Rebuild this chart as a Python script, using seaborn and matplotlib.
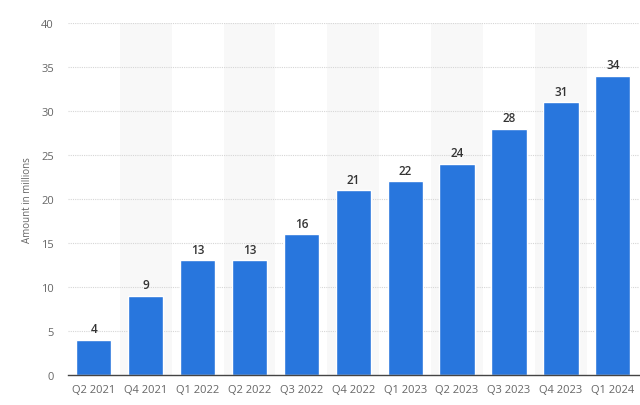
import matplotlib
matplotlib.use("Agg")
import matplotlib.pyplot as plt
import seaborn as sns
import pandas as pd

categories = ["Q2 2021", "Q4 2021", "Q1 2022", "Q2 2022", "Q3 2022", "Q4 2022",
              "Q1 2023", "Q2 2023", "Q3 2023", "Q4 2023", "Q1 2024"]
values = [4, 9, 13, 13, 16, 21, 22, 24, 28, 31, 34]
y_ticks = [0, 5, 10, 15, 20, 25, 30, 35, 40]

sns.set_theme(style="white")
plt.rcParams['font.family'] = ['Open Sans', 'DejaVu Sans']

df = pd.DataFrame({"quarter": categories, "amount": values})

fig = plt.figure(figsize=(6.4, 4.06), dpi=100)
ax = fig.add_axes([0.106, 0.0746, 0.892, 0.866])

for i in range(len(categories)):
    if i % 2 == 1:
        ax.axvspan(i - 0.5, i + 0.5, color="#f8f8f8", zorder=0, lw=0)

for t in y_ticks[1:]:
    ax.axhline(t, color="#d6d6d6", lw=0.8, ls=(0, (1, 1)), zorder=1)

sns.barplot(data=df, x="quarter", y="amount", color="#2876dd", width=0.68,
            saturation=1, ax=ax, zorder=2)

for i, v in enumerate(values):
    ax.text(i, v + 0.5, str(v), ha="center", va="bottom", fontsize=8.5,
            color="#333333", fontweight="semibold")

ax.set_xlim(-0.5, len(categories) - 0.5)
ax.set_ylim(0, 40)
ax.set_yticks(y_ticks)
ax.set_yticklabels([str(t) for t in y_ticks])
ax.set_xlabel("")
ax.set_ylabel("Amount in millions", fontsize=7, color="#666666", labelpad=6)
ax.tick_params(axis="both", labelsize=8, colors="#666666", length=0)
ax.tick_params(axis="x", pad=7)
ax.tick_params(axis="y", pad=10)
for s in ["top", "right", "left"]:
    ax.spines[s].set_visible(False)
ax.spines["bottom"].set_color("#444444")
ax.spines["bottom"].set_linewidth(1.0)

fig.savefig("out.png", dpi=100)
